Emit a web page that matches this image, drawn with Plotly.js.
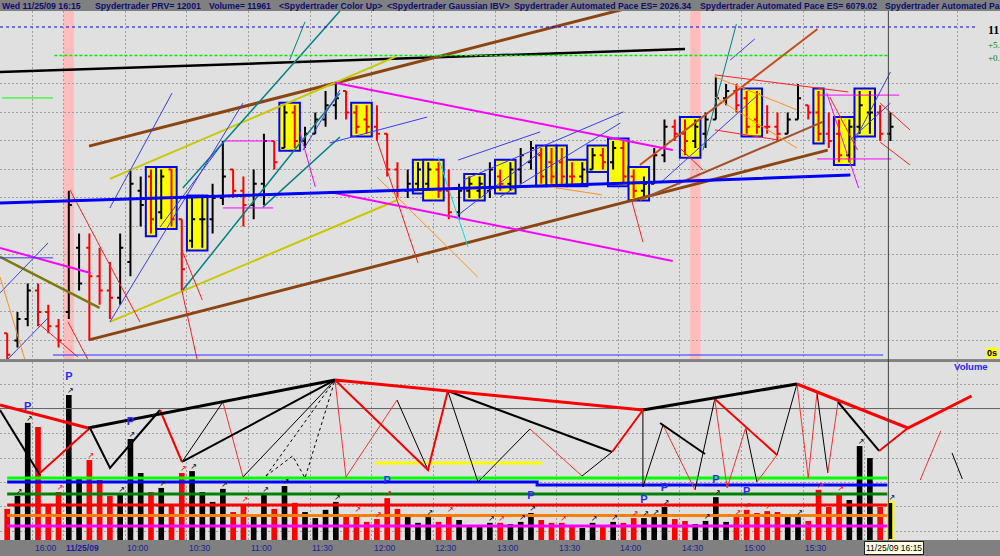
<!DOCTYPE html>
<html><head><meta charset="utf-8">
<script src="https://cdn.plot.ly/plotly-3.0.1.min.js"></script>
<style>html,body{margin:0;padding:0;background:#808080;}#chart{width:1000px;height:556px;}</style>
</head><body><div id="chart"></div>
<script>
// ---------- DATA ----------
// 5-minute ES bars; index 0 of the arrays is bar -3 (15:45 of the previous session); bar 3 = 09:30
const firstBar = -3;
const barCol = "RBBRRRBBRR" + "RBBBRBRRBB" + "BBRRBBRBRB" + "BBBRRRRRRB" + "BBRRBBBBRB" +
               "BBRRRRBBRB" + "RRBBBRRBBB" + "BRRRRRBBRR" + "RRBBBRB";
const openP = [1100.25,1100.00,1100.75,1101.75,1101.00,1100.50,1101.00,1103.25,1103.25,1102.25,
 1101.75,1101.50,1102.75,1105.25,1105.75,1104.50,1106.00,1104.25,1103.50,1104.25,
 1104.25,1105.00,1106.00,1105.25,1104.75,1105.50,1107.00,1106.75,1108.00,1107.00,
 1107.25,1107.75,1108.25,1108.75,1108.00,1107.75,1107.50,1107.25,1106.00,1105.25,
 1105.50,1105.50,1106.00,1105.25,1104.50,1105.25,1105.25,1105.25,1105.75,1105.50,
 1106.00,1106.25,1106.50,1106.25,1106.25,1105.75,1105.75,1106.00,1106.50,1106.25,
 1106.75,1105.75,1105.25,1105.50,1106.50,1107.50,1107.25,1107.00,1107.25,1107.75,
 1108.50,1108.75,1108.50,1107.75,1107.50,1107.50,1107.25,1107.75,1108.25,1108.00,
 1107.25,1107.25,1106.50,1107.50,1108.00,1108.00,1107.25];
const highP = [1100.25,1101.00,1102.00,1102.00,1101.25,1100.75,1105.25,1103.75,1103.75,1103.25,
 1102.75,1103.75,1106.00,1105.75,1106.00,1106.00,1106.00,1104.25,1105.00,1105.00,
 1105.50,1107.00,1106.00,1105.75,1106.00,1107.25,1107.00,1108.25,1108.25,1107.50,
 1108.00,1108.75,1109.00,1108.75,1108.25,1108.25,1108.25,1107.25,1106.25,1106.00,
 1106.25,1106.25,1106.25,1106.00,1105.50,1105.75,1105.75,1106.25,1106.00,1106.25,
 1106.75,1107.00,1106.75,1106.75,1106.75,1106.25,1106.25,1106.75,1106.75,1107.00,
 1107.00,1106.00,1105.75,1106.75,1107.75,1107.75,1107.75,1107.75,1108.00,1109.25,
 1109.00,1109.00,1108.75,1108.75,1108.25,1108.00,1108.00,1109.00,1108.25,1108.75,
 1108.00,1107.75,1107.75,1108.75,1108.75,1108.25,1108.00];
const lowP = [1099.25,1099.75,1100.50,1100.50,1100.25,1099.75,1100.75,1101.75,1100.00,1101.25,
 1100.75,1101.25,1102.25,1104.00,1103.75,1104.25,1104.00,1101.75,1103.25,1103.25,
 1103.75,1104.75,1105.00,1104.00,1104.25,1104.75,1106.00,1106.75,1106.75,1106.75,
 1107.25,1107.50,1107.75,1107.75,1107.25,1107.25,1107.00,1105.75,1105.00,1105.00,
 1105.25,1105.25,1105.00,1104.25,1104.25,1105.00,1105.00,1105.00,1105.25,1105.25,
 1105.50,1106.00,1105.50,1105.50,1105.50,1105.50,1105.50,1106.00,1106.00,1106.00,
 1105.50,1105.00,1105.00,1105.50,1106.25,1107.00,1106.50,1106.75,1106.75,1107.75,
 1108.25,1108.00,1107.25,1107.25,1107.25,1107.00,1107.25,1107.75,1107.75,1107.00,
 1106.75,1106.25,1106.25,1107.25,1107.25,1107.00,1107.00];
const closeP = [1099.50,1100.75,1101.75,1101.00,1100.50,1100.00,1104.75,1102.00,1102.25,1101.75,
 1101.50,1103.25,1105.50,1104.75,1104.25,1105.75,1104.25,1102.50,1104.25,1104.25,
 1105.00,1105.75,1105.25,1104.75,1105.50,1107.00,1106.25,1108.00,1107.00,1107.25,
 1107.75,1108.25,1108.50,1108.00,1107.50,1107.50,1107.25,1106.00,1105.25,1105.50,
 1106.00,1106.00,1105.25,1104.50,1105.25,1105.50,1105.50,1106.00,1105.50,1106.00,
 1106.50,1106.75,1105.75,1105.75,1105.75,1105.75,1106.00,1106.50,1106.25,1106.75,
 1105.75,1105.25,1105.50,1106.50,1107.50,1107.25,1107.00,1107.50,1107.75,1108.50,
 1108.75,1108.25,1107.50,1107.50,1107.50,1107.25,1107.75,1108.50,1108.00,1107.25,
 1107.00,1106.50,1107.50,1108.25,1108.00,1107.25,1107.50];
const volume = [9800,13900,36900,35600,11000,15100,45700,19500,25200,18900,
 13900,14500,31800,21100,15100,16400,11000,21100,21700,15100,
 12000,16100,8800,11300,7600,14500,9800,17000,11700,8800,
 6900,9500,12000,7900,8200,5700,6600,13200,9800,7200,
 5400,7200,5700,8200,6300,4100,4100,5400,5400,5000,
 5700,8500,6300,5400,5400,4100,3800,5400,4100,5700,
 5400,6900,6900,7200,10400,6600,6000,5000,6000,13500,
 5700,7200,9500,8500,9100,8800,7200,7200,6000,15800,
 10400,14800,12600,29600,25800,10400,11961];
// yellow "Color Up" boxes: [first bar, last bar]
const boxGroups = [[11,11],[12,13],[15,16],[24,25],[31,32],[37,38],[38,39],[42,43],[45,46],[49,49],[50,50],
 [51,51],[52,53],[54,55],[56,57],[58,59],[63,64],[69,70],[76,76],[78,79],[80,81]];
const pinkBars = [3, 64];
const arrowBars = [-2,-1,2,3,5,8,9,12,14,15,18,20,22,24,29,31,33,34,38,40,44,45,47,48,51,54,56,58,59,60,61,65,66,68,69,71,74,76,78,80,83];
const pBars = [-1,3,9,34,48,59,61,66,69];
const pVol  = [41900,51300,37200,18600,13900,12600,16400,18900,15100];
// time axis
const gridK = [-0.5,2.5,8.5,14.5,20.5,26.5,32.5,38.5,44.5,50.5,56.5,62.5,68.5,74.5,80.5,89.5];
const timeLabels = ['16:00','11/25/09','10:00','10:30','11:00','11:30','12:00','12:30','13:00','13:30','14:00','14:30','15:00','15:30'];
const cursorLabel = '11/25/09 16:15';
const priceGrid = [1100,1101,1102,1103,1104,1105,1106,1107,1108,1109];
const volGrid = [2700,10400,18100,25800,33550,48950];
const headerItems = ['Wed 11/25/09 16:15','Spydertrader PRV= 12001','Volume= 11961','<Spydertrader Color Up>',
 '<Spydertrader Gaussian IBV>','Spydertrader Automated Pace ES= 2026.34','Spydertrader Automated Pace ES= 6079.02','Spydertrader Automated Pa'];
const scaleTexts = ['11', '+5.', '+0.'];
// trend lines on the price panel: [bar, price] end points
const priceLines = [
 {c:'#000000', w:2.5, s:[[[-3.7,1109.42],[63.0,1110.23]]]},
 {c:'#8b4513', w:3, s:[[[4.97,1106.82],[58.6,1111.77]], [[4.97,1100.02],[76.9,1106.68]]]},
 {c:'#a0522d', w:2, s:[[[58.6,1104.93],[76.4,1107.67]]]},
 {c:'#c84b1a', w:2, s:[[[58.6,1106.16],[75.9,1110.93]]]},
 {c:'#c8c800', w:2, s:[[[7.0,1105.67],[34.8,1109.95]], [[7.0,1100.65],[35.0,1104.93]]]},
 {c:'#7a7a10', w:2.5, s:[[[-3.7,1102.93],[6.0,1101.14]]]},
 {c:'#ff00ff', w:2, s:[[[28.9,1109.04],[61.8,1106.68]], [[28.4,1105.21],[61.8,1102.79]], [[-3.7,1103.25],[5.1,1102.37]]]},
 {c:'#ff00ff', w:1, s:[[[18.0,1107.0],[22.9,1107.0]], [[18.0,1104.65],[22.9,1104.65]], [[25.5,1107.32],[27.0,1105.39]],
   [[75.85,1108.61],[83.84,1108.61]], [[75.85,1106.37],[83.1,1106.37]], [[76.8,1108.68],[79.9,1105.35]]]},
 {c:'#008080', w:1.5, s:[[[14.1,1105.35],[29.4,1111.56]], [[14.1,1101.77],[29.4,1108.68]], [[21.9,1104.68],[29.4,1107.14]]]},
 {c:'#008080', w:1, s:[[[24.5,1109.84],[26.0,1111.18]], [[64.75,1106.68],[68.0,1111.1]]]},
 {c:'#3a3aff', w:1, s:[[[-3.7,1101.67],[0.97,1103.42]], [[-3.7,1102.9],[1.46,1102.9]], [[-3.0,1099.32],[0.97,1100.79]],
   [[7.0,1104.65],[13.05,1108.68]], [[7.0,1100.65],[19.96,1108.33]], [[11.88,1103.98],[18.0,1106.93]], [[25.8,1106.68],[29.4,1108.79]],
   [[28.4,1106.93],[37.9,1107.84]], [[40.9,1106.33],[48.9,1107.32]], [[41.4,1105.63],[57.0,1108.02]], [[40.9,1104.4],[48.9,1106.61]],
   [[45.0,1105.04],[56.7,1107.63]], [[60.6,1105.53],[70.3,1108.68]], [[67.4,1109.84],[69.8,1110.58]], [[79.4,1106.93],[83.0,1109.42]],
   [[79.1,1107.04],[83.0,1108.33]]]},
 {c:'#ff2020', w:1, s:[[[3.12,1105.28],[9.93,1100.65]], [[2.92,1100.65],[4.87,1099.32]], [[0,1100.61],[3.89,1099.42]],
   [[14.0,1103.18],[16.0,1101.42]], [[14.0,1101.77],[15.5,1099.32]], [[33.0,1107.04],[37.0,1102.72]], [[65.9,1109.32],[78.9,1108.72]],
   [[65.9,1107.39],[72.0,1107.04]], [[82.0,1108.33],[84.9,1107.39]], [[82.0,1106.96],[84.9,1106.16]], [[57.8,1104.93],[58.9,1103.46]],
   [[62.5,1106.75],[64.75,1105.98]], [[77.1,1108.54],[79.8,1106.68]]]},
 {c:'#ff9020', w:1, s:[[[-3.7,1102.23],[-1.27,1099.32]], [[33.0,1105.74],[42.8,1102.23]], [[49.85,1105.39],[54.9,1105.11]],
   [[65.9,1109.25],[73.9,1108.09]], [[65.9,1108.54],[73.9,1106.75]]]},
 {c:'#00e5e5', w:1, s:[[[38.95,1106.44],[41.87,1103.28]]]},
 {c:'#00ff00', w:1, s:[[[-3.5,1108.51],[1.46,1108.51]]]},
 {c:'#00ee00', w:1.5, d:'3px,2px', s:[[[1.6,1110],[82.8,1110]]]},
 {c:'#0000ff', w:1, d:'3px,3px', s:[[[-3.7,1111],[91.5,1111]]]},
 {c:'#3030ff', w:1, s:[[[1.46,1099.49],[82.3,1099.49]]]},
 {c:'#0000ff', w:3, s:[[[-3.7,1104.82],[29.4,1105.21],[60.6,1105.56],[79.1,1105.81]]]}
];
// volume panel: levels and zig-zag swings, [bar, volume]
const volLines = [
 {c:'#606060', w:1, s:[[[-3.7,41400],[93.7,41400]]]},
 {c:'#00ff00', w:3, s:[[[-3.0,19530],[82.7,19530]]]},
 {c:'#0000ff', w:3, s:[[[-3.0,18270],[48.6,18270],[48.6,17330],[82.7,17330]]]},
 {c:'#008000', w:3, s:[[[-3.0,14490],[82.7,14490]]]},
 {c:'#ff0000', w:3, s:[[[-3.0,11030],[82.7,11030]]]},
 {c:'#ff8000', w:3, s:[[[-3.0,7720],[82.7,7720]]]},
 {c:'#ff00ff', w:3, s:[[[-3.0,4410],[82.7,4410]]]},
 {c:'#ffff00', w:3, s:[[[32.9,24260],[49.1,24260]]]},
 {c:'#000000', w:1, d:'3px,3px', s:[[[22.2,20160],[24.8,26460],[26.0,19530],[28.92,50400]], [[22.2,20160],[28.92,50400]]]},
 {c:'#000000', w:1, s:[[[14.02,24570],[18.0,43470]], [[19.96,19850],[28.92,50400]], [[34.96,44100],[37.97,22050]],
   [[39.9,46940],[42.84,18270],[47.9,34970]], [[52.97,20160],[55.9,27720]], [[58.9,40950],[58.9,16700],[60.86,36230]],
   [[63.97,15750],[65.9,44420]], [[68.9,35280],[70.0,18270]], [[71.96,26780],[73.9,49140]], [[75.85,46310],[76.9,21110]],
   [[89.0,27410],[90.0,19220]]]},
 {c:'#ff3030', w:1, s:[[[18.0,43470],[19.96,19850]], [[28.92,50400],[29.99,19850],[34.96,44100]], [[47.9,34970],[52.97,20160]],
   [[60.86,36230],[63.97,15750]], [[65.9,44420],[67.1,16380],[68.9,35280]], [[70.0,18270],[71.96,26780]],
   [[73.9,49140],[75.0,19530],[75.85,46310]], [[76.9,21110],[77.9,43470]], [[85.9,18900],[87.9,34340]]]},
 {c:'#000000', w:2, s:[[[-3.7,40950],[0.19,20480]], [[5.06,35280],[7.01,22680],[11.88,40950]], [[14.02,24570],[28.92,50400]],
   [[39.9,46940],[55.9,27720]], [[60.57,36860],[64.95,27090]], [[77.9,43470],[81.9,28040]]]},
 {c:'#ff0000', w:2, s:[[[0.19,21110],[5.06,35280]], [[11.88,40950],[14.02,24570]], [[28.92,50400],[37.97,22050],[39.9,46940]],
   [[55.9,27720],[58.9,40950]], [[65.9,44420],[71.96,26780]], [[81.9,28040],[84.7,35280]]]},
 {c:'#000000', w:3, s:[[[4.87,35280],[28.92,50400]], [[58.9,40950],[73.9,49140]]]},
 {c:'#ff0000', w:3, s:[[[-3.7,42530],[4.87,35280]], [[28.92,50400],[58.9,40950]], [[73.9,49140],[84.7,35280],[90.9,45360]]]}
];

// ---------- BUILD ----------
const bars = barCol.split('').map((c,i)=>({k:i+firstBar, c:c, o:openP[i], h:highP[i], l:lowP[i], cl:closeP[i], v:volume[i]}));
const lastBar = bars[bars.length-1].k;
const font = 'Liberation Sans, Arial, sans-serif';

function segXY(list){ const x=[],y=[]; list.forEach(s=>{ s.forEach(p=>{x.push(p[0]);y.push(p[1]);}); x.push(null); y.push(null);}); return {x,y}; }
function lineTraces(groups, yaxis){
  return groups.map(g=>{ const xy=segXY(g.s); return {type:'scatter', mode:'lines', x:xy.x, y:xy.y, xaxis:'x', yaxis:yaxis,
     line:{color:g.c, width:g.w, dash:g.d||'solid'}, hoverinfo:'skip', connectgaps:false}; });
}
const traces = [];
traces.push({type:'bar', x:bars.map(b=>b.k), y:bars.map(b=>b.v), width:0.55, xaxis:'x', yaxis:'y',
  marker:{color:bars.map(b=>b.c==='B'?'#000000':'#ff0000'),
          line:{color:bars.map(b=>b.k===lastBar?'#ffff00':'rgba(0,0,0,0)'), width:bars.map(b=>b.k===lastBar?2:0)}},
  hoverinfo:'skip'});
lineTraces(volLines,'y').forEach(t=>traces.push(t));
const arr = bars.filter(b=>arrowBars.includes(b.k));
traces.push({type:'scatter', mode:'text', x:arr.map(b=>b.k+0.15), y:arr.map(b=>b.v), text:arr.map(()=>'↗'),
  textposition:'top center', textfont:{family:'DejaVu Sans', size:8, color:arr.map(b=>b.c==='B'?'#000000':'#ff0000')},
  xaxis:'x', yaxis:'y', hoverinfo:'skip', cliponaxis:false});
traces.push({type:'scatter', mode:'text', x:pBars, y:pVol, text:pBars.map(()=>'P'), textposition:'middle center',
  textfont:{family:font, size:11, color:'#2a2aff', weight:'bold'}, xaxis:'x', yaxis:'y', hoverinfo:'skip'});
lineTraces(priceLines,'y2').forEach(t=>traces.push(t));
['B','R'].forEach(col=>{
  const sub = bars.filter(b=>b.c===col); const clr = col==='B'?'#000000':'#ff0000';
  traces.push({type:'ohlc', x:sub.map(b=>b.k), open:sub.map(b=>b.o), high:sub.map(b=>b.h), low:sub.map(b=>b.l), close:sub.map(b=>b.cl),
    xaxis:'x', yaxis:'y2', tickwidth:0.3, line:{width:2},
    increasing:{line:{color:clr, width:2}}, decreasing:{line:{color:clr, width:2}}, hoverinfo:'skip'});
});

const shapes = [];
pinkBars.forEach(k=>shapes.push({type:'rect', xref:'x', yref:'y2 domain', x0:k-0.5, x1:k+0.5, y0:0, y1:1,
  fillcolor:'#ffbcbc', line:{width:0}, layer:'below'}));
const boxPad = 0.09;
boxGroups.forEach(g=>{
  const sel = bars.filter(b=>b.k>=g[0] && b.k<=g[1]);
  shapes.push({type:'rect', xref:'x', yref:'y2', x0:g[0]-0.5, x1:g[1]+0.5,
    y0:Math.min(...sel.map(b=>b.l))-boxPad, y1:Math.max(...sel.map(b=>b.h))+boxPad,
    fillcolor:'#ffff00', line:{color:'#0000ff', width:2}, layer:'between'});
});
shapes.push({type:'line', xref:'x', yref:'paper', x0:lastBar-0.2, x1:lastBar-0.2, y0:0, y1:1, line:{color:'#404040', width:1}});

const plotTop = 11, plotBottom = 540, plotH = plotBottom - plotTop;
const py = px => (plotBottom - px) / plotH;   // pixel row -> paper y (for margin texts)
const headerX = [0,93,207,277,385,512,698,883];
const annotations = [];
headerItems.forEach((t,i)=>annotations.push({text:t, xref:'paper', yref:'paper', x:headerX[i]/1000, y:py(5.5),
  xanchor:'left', yanchor:'middle', showarrow:false, font:{family:font, size:8.7, color:'#0c0c70', weight:'bold'}}));
timeLabels.forEach((t,i)=>annotations.push({text:t, xref:'x', yref:'paper', x:gridK[i], y:py(548), xanchor:'left', yanchor:'middle',
  showarrow:false, font:{family:font, size:8.5, color:'#1c1c9c', weight: t.indexOf('/')>=0?'bold':'normal'}}));
annotations.push({text:cursorLabel, xref:'paper', yref:'paper', x:0.8635, y:py(548), xanchor:'left', yanchor:'middle', showarrow:false,
  bgcolor:'#ffffe1', bordercolor:'#202020', borderwidth:1, borderpad:1, font:{family:font, size:8.5, color:'#000000'}});
annotations.push({text:scaleTexts[0], xref:'paper', yref:'paper', x:0.986, y:py(30), xanchor:'left', yanchor:'middle', showarrow:false,
  font:{family:'Liberation Serif, serif', size:12, color:'#000000', weight:'bold'}});
annotations.push({text:scaleTexts[1], xref:'paper', yref:'paper', x:0.986, y:py(45), xanchor:'left', yanchor:'middle', showarrow:false,
  font:{family:'Liberation Serif, serif', size:9, color:'#008000'}});
annotations.push({text:scaleTexts[2], xref:'paper', yref:'paper', x:0.986, y:py(58), xanchor:'left', yanchor:'middle', showarrow:false,
  font:{family:'Liberation Serif, serif', size:9, color:'#008000'}});
annotations.push({text:'0s', xref:'paper', yref:'paper', x:0.986, y:py(353), xanchor:'left', yanchor:'middle', showarrow:false,
  bgcolor:'#ffff00', borderpad:0, font:{family:font, size:9, color:'#000000', weight:'bold'}});
annotations.push({text:'Volume', xref:'paper', yref:'paper', x:0.952, y:py(366), xanchor:'left', yanchor:'middle', showarrow:false,
  font:{family:font, size:9.5, color:'#2424ff', weight:'bold'}});

const gridStyle = {showgrid:true, gridcolor:'#a0a0a0', griddash:'2px,2px', gridwidth:1, zeroline:false, showline:false,
  showticklabels:false, ticks:'', fixedrange:true};
const layout = {
  width:1000, height:556, margin:{l:0, r:0, t:plotTop, b:556-plotBottom, pad:0},
  paper_bgcolor:'#808080', plot_bgcolor:'#e0e0e0', showlegend:false, hovermode:false,
  xaxis:Object.assign({}, gridStyle, {range:[-3.70, 93.67], tickvals:gridK, rangeslider:{visible:false}, anchor:'y'}),
  yaxis:Object.assign({}, gridStyle, {domain:[0, 0.3365], range:[0, 56070], tickvals:volGrid, anchor:'x'}),
  yaxis2:Object.assign({}, gridStyle, {domain:[0.342, 1], range:[1099.347, 1111.561], tickvals:priceGrid, anchor:'x'}),
  shapes:shapes, annotations:annotations
};
Plotly.newPlot('chart', traces, layout, {staticPlot:true, displayModeBar:false});
</script></body></html>
